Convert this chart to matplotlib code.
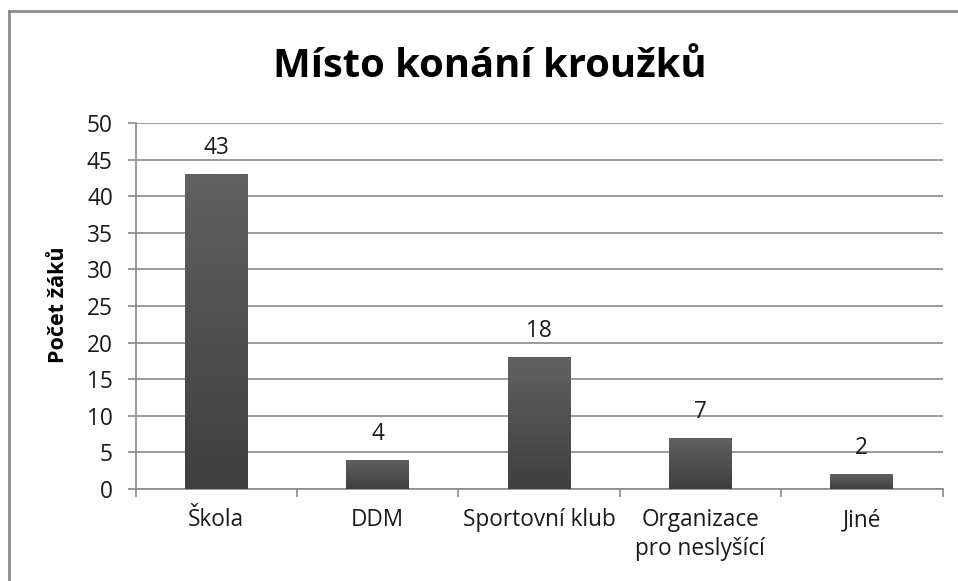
import matplotlib
matplotlib.use("Agg")
import matplotlib.pyplot as plt
import numpy as np
from matplotlib.lines import Line2D
from matplotlib.colors import LinearSegmentedColormap

categories = ["Škola", "DDM", "Sportovní klub", "Organizace\npro neslyšící", "Jiné"]
values = [43, 4, 18, 7, 2]
title = "Místo konání kroužků"
ylabel = "Počet žáků"
yticks = [0, 5, 10, 15, 20, 25, 30, 35, 40, 45, 50]

plt.rcParams['font.family'] = ['Open Sans', 'DejaVu Sans']

W, H, DPI = 958, 581, 100
fig = plt.figure(figsize=(W / DPI, H / DPI), dpi=DPI)
fig.patch.set_facecolor("white")

left, right, bottom, top = 135.5, 942.5, 489, 123
ax = fig.add_axes([left / W, 1 - bottom / H, (right - left) / W, (bottom - top) / H])

FS = 16.3

x = np.arange(len(categories))
bars = ax.bar(x, values, width=0.39, color="#505050", zorder=3)

# vertical gradient inside each bar
grad = np.linspace(0, 1, 256).reshape(-1, 1)
cmap = LinearSegmentedColormap.from_list("g", ["#3f3f3f", "#616161"])
for b in bars:
    x0, y0 = b.get_x(), b.get_y()
    w, h = b.get_width(), b.get_height()
    im = ax.imshow(grad, extent=(x0, x0 + w, y0, y0 + h), origin="lower",
                   cmap=cmap, aspect="auto", zorder=3.5)
    im.set_clip_path(b)

for xi, v in zip(x, values):
    ax.annotate(str(v), (xi, v), xytext=(0, 14.4), textcoords="offset points",
                ha="center", va="baseline", fontsize=FS, color="#1a1a1a", zorder=5)

ax.set_xlim(-0.5, len(categories) - 0.5)
ax.set_ylim(0, 50)
ax.set_yticks(yticks)
ax.yaxis.grid(True, color="#8a8a8a", linewidth=1.2, zorder=0)
ax.set_axisbelow(True)

# category boundary ticks (major), labels at centres (minor)
ax.set_xticks(np.arange(len(categories) + 1) - 0.5)
ax.set_xticklabels([])
ax.set_xticks(x, minor=True)
ax.set_xticklabels(categories, minor=True, fontsize=FS, color="#1a1a1a", linespacing=1.25)
ax.tick_params(axis="x", which="major", length=5.8, width=1.2, color="#8a8a8a", direction="out")
ax.tick_params(axis="x", which="minor", length=0, pad=14)
ax.tick_params(axis="y", length=5.8, width=1.2, color="#8a8a8a", pad=10.5,
               labelsize=FS, labelcolor="#1a1a1a")

for s in ["top", "right"]:
    ax.spines[s].set_visible(False)
for s in ["left", "bottom"]:
    ax.spines[s].set_color("#8a8a8a")
    ax.spines[s].set_linewidth(1.2)

fig.text(490 / W, 1 - 77 / H, title, ha="center", va="baseline",
         fontsize=28.8, fontweight="bold", color="black")
fig.text(58 / W, 1 - 305 / H, ylabel, ha="center", va="center", rotation=90,
         fontsize=15.5, fontweight="bold", color="black")

# outer chart border (top and left visible)
fig.add_artist(Line2D([9 / W, 1.01], [1 - 11 / H, 1 - 11 / H], transform=fig.transFigure,
                      color="#8c8c8c", linewidth=2))
fig.add_artist(Line2D([9 / W, 9 / W], [1 - 11 / H, -0.01], transform=fig.transFigure,
                      color="#8c8c8c", linewidth=2))

fig.savefig("out.png", dpi=DPI)
